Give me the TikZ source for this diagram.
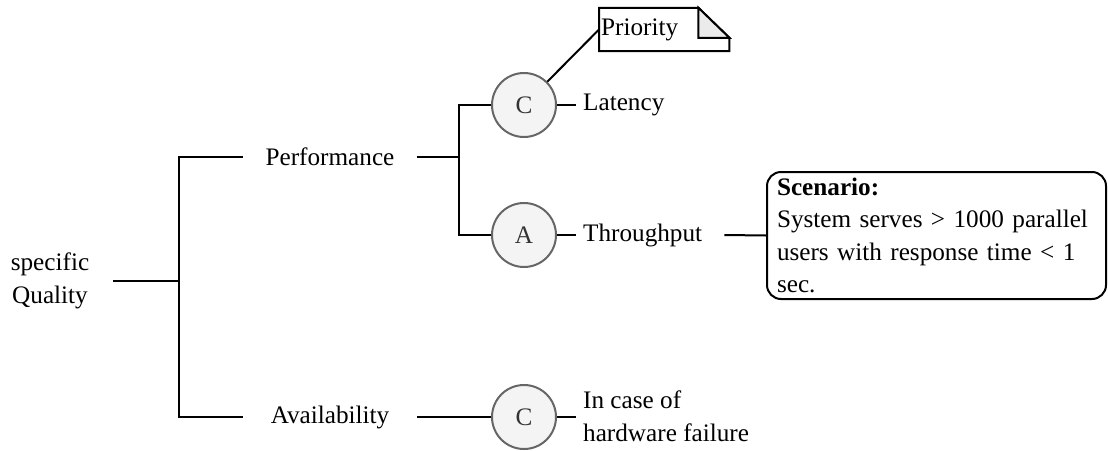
\documentclass[tikz,border=0pt]{standalone}
\usepackage{fontspec}
\setmainfont{Liberation Serif}
\definecolor{ringgray}{HTML}{666666}
\definecolor{ringfill}{HTML}{F4F4F4}
\definecolor{foldfill}{HTML}{EBEBEB}
\definecolor{lettergray}{HTML}{333333}
\begin{document}
\begin{tikzpicture}[x=1pt,y=-1pt,
  font=\fontsize{25.2}{32.5}\selectfont,
  link/.style={line width=2pt,black},
  branch/.style={minimum width=174pt,inner sep=0pt,anchor=center},
  leaf/.style={anchor=west,inner xsep=7pt,inner ysep=0pt},
  rating/.style={circle,draw=ringgray,fill=ringfill,line width=2pt,
    minimum size=64pt,inner sep=0pt,text=lettergray},
  scenbox/.style={draw,line width=2pt,rounded corners=14pt,
    minimum width=339pt,minimum height=127pt,text width=319pt,
    align=left,inner xsep=10pt,anchor=north west}
]
\useasboundingbox (0,0) rectangle (1108,450);

% quality tree
\node[align=center,inner sep=0pt] (sq) at (50,281) {specific\\Quality};
\coordinate (j1) at (179,281);
\node[branch] (perf) at (330,157) {Performance};
\node[branch] (avail) at (330,417) {Availability};
\coordinate (j2) at (459,157);

\draw[link] ([xshift=24pt]sq.east) -- (j1);
\draw[link] (perf.west) -| (j1) |- (avail.west);
\draw[link] (perf.east) -- (j2);

% rated refinements
\node[rating] (c1) at (524,105) {C};
\node[rating] (a1) at (524,235) {A};
\node[rating] (c3) at (524,417) {C};

\draw[link] (c1.west) -| (j2) |- (a1.west);
\draw[link] (avail.east) -- (c3.west);

\node[leaf] (lat) at (c1.east) [xshift=19pt] {Latency};
\node[leaf] (thr) at (a1.east) [xshift=19pt] {Throughput};
\node[leaf,align=left] (hw) at (c3.east) [xshift=19pt,yshift=1pt] {In case of\\hardware failure};

\draw[link] (c1.east) -- (lat.west);
\draw[link] (a1.east) -- (thr.west);
\draw[link] (c3.east) -- (c3.east -| hw.west);

% note attached to the latency rating
\node[anchor=west,text width=126pt,align=left,inner xsep=2pt,
      minimum height=43pt,inner ysep=0pt] (note) at (599,29.5) {Priority};
\draw[line width=2pt]
  (note.north west) -- ([xshift=-31pt]note.north east)
  -- ([yshift=-30pt]note.north east) -- (note.south east)
  -- (note.south west) -- cycle;
\draw[line width=2pt,fill=foldfill]
  ([xshift=-31pt]note.north east) -- ([xshift=-31pt,yshift=-30pt]note.north east)
  -- ([yshift=-30pt]note.north east) -- cycle;
\draw[link] (c1.north east) -- (note.west);

% scenario for throughput
\node[scenbox] (scen) at (766,171) {\textbf{Scenario:}\\System serves > 1000 parallel\\users with response time < 1\\sec.};
\draw[link] (thr.east) ++(15pt,0) -- (scen.west);
\end{tikzpicture}
\end{document}
